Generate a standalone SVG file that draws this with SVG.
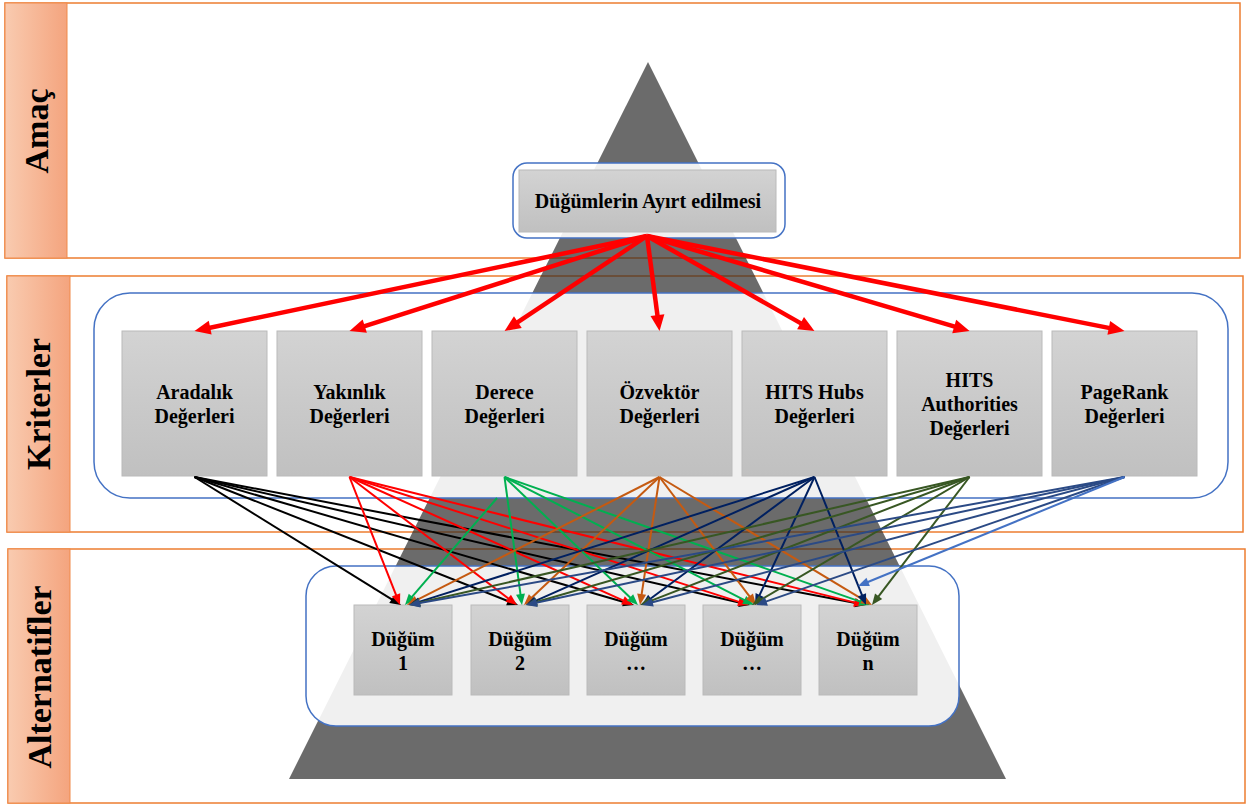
<svg xmlns="http://www.w3.org/2000/svg" width="1255" height="805" viewBox="0 0 1255 805">
<defs>
<linearGradient id="lab" x1="0" y1="0" x2="1" y2="0">
<stop offset="0" stop-color="#F9CBB0"/><stop offset="1" stop-color="#F4A47E"/>
</linearGradient>
<linearGradient id="box" x1="0" y1="0" x2="0" y2="1">
<stop offset="0" stop-color="#D3D3D3"/><stop offset="1" stop-color="#C0C0C0"/>
</linearGradient>
<clipPath id="pyrClip"><polygon points="648,62 1006,779 289,779"/></clipPath>
<marker id="mRed" markerUnits="userSpaceOnUse" markerWidth="20" markerHeight="20" refX="5" refY="0" orient="auto" overflow="visible"><path d="M0,-7 L16,0 L0,7 z" fill="#FF0000"/></marker>
<marker id="mBlack" markerUnits="userSpaceOnUse" markerWidth="12" markerHeight="12" refX="3" refY="0" orient="auto" overflow="visible"><path d="M0,-4.5 L11,0 L0,4.5 z" fill="#000000"/></marker>
<marker id="mR2" markerUnits="userSpaceOnUse" markerWidth="12" markerHeight="12" refX="3" refY="0" orient="auto" overflow="visible"><path d="M0,-4.5 L11,0 L0,4.5 z" fill="#FF0000"/></marker>
<marker id="mGreen" markerUnits="userSpaceOnUse" markerWidth="12" markerHeight="12" refX="3" refY="0" orient="auto" overflow="visible"><path d="M0,-4.5 L11,0 L0,4.5 z" fill="#00B050"/></marker>
<marker id="mOrange" markerUnits="userSpaceOnUse" markerWidth="12" markerHeight="12" refX="3" refY="0" orient="auto" overflow="visible"><path d="M0,-4.5 L11,0 L0,4.5 z" fill="#C55A11"/></marker>
<marker id="mNavy" markerUnits="userSpaceOnUse" markerWidth="12" markerHeight="12" refX="3" refY="0" orient="auto" overflow="visible"><path d="M0,-4.5 L11,0 L0,4.5 z" fill="#002060"/></marker>
<marker id="mDkGreen" markerUnits="userSpaceOnUse" markerWidth="12" markerHeight="12" refX="3" refY="0" orient="auto" overflow="visible"><path d="M0,-4.5 L11,0 L0,4.5 z" fill="#385723"/></marker>
<marker id="mBlue" markerUnits="userSpaceOnUse" markerWidth="12" markerHeight="12" refX="3" refY="0" orient="auto" overflow="visible"><path d="M0,-4.5 L11,0 L0,4.5 z" fill="#2B4A85"/></marker>
<marker id="mBlue2" markerUnits="userSpaceOnUse" markerWidth="12" markerHeight="12" refX="3" refY="0" orient="auto" overflow="visible"><path d="M0,-4.5 L11,0 L0,4.5 z" fill="#4472C4"/></marker>
</defs>
<style>
.band{fill:#FFFFFF;stroke:#ED7D31;stroke-width:1.5}
.lab{fill:url(#lab);stroke:#F08A4B;stroke-width:1}
.labt{font-family:"Liberation Serif","Times New Roman",serif;font-weight:bold;font-size:34px;fill:#000;text-anchor:middle}
.frame{fill:#FFFFFF;fill-opacity:0.9;stroke:#4472C4;stroke-width:1.5}
.box{fill:url(#box);stroke:#BABABA;stroke-width:1}
.t{font-family:"Liberation Serif","Times New Roman",serif;font-weight:bold;font-size:20px;fill:#000;text-anchor:middle}
.red{stroke:#FF0000;stroke-width:4.5;fill:none;marker-end:url(#mRed)}
.c0{stroke:#000000;stroke-width:2;marker-end:url(#mBlack)}
.c1{stroke:#FF0000;stroke-width:2;marker-end:url(#mR2)}
.c2{stroke:#00B050;stroke-width:2;marker-end:url(#mGreen)}
.c3{stroke:#C55A11;stroke-width:2;marker-end:url(#mOrange)}
.c4{stroke:#002060;stroke-width:2;marker-end:url(#mNavy)}
.c5{stroke:#385723;stroke-width:2;marker-end:url(#mDkGreen)}
.c6{stroke:#2B4A85;stroke-width:2;marker-end:url(#mBlue)}
.c7{stroke:#4472C4;stroke-width:2;marker-end:url(#mBlue2)}
</style>

<g id="band-amac">
<rect class="band" x="5" y="3" width="1235" height="255"/>
<rect class="lab" x="5" y="3" width="62" height="255"/>
<text class="labt" transform="translate(48,131) rotate(-90)">Amaç</text>
</g>
<g id="band-kriterler">
<rect class="band" x="7" y="276" width="1236" height="256"/>
<rect class="lab" x="7" y="276" width="63" height="256"/>
<text class="labt" transform="translate(50,404) rotate(-90)">Kriterler</text>
</g>
<g id="band-alternatifler">
<rect class="band" x="8" y="549" width="1237" height="254"/>
<rect class="lab" x="8" y="549" width="62" height="254"/>
<text class="labt" transform="translate(51,677) rotate(-90)">Alternatifler</text>
</g>

<g id="pyramid">
<polygon points="648,62 1006,779 289,779" fill="#6B6B6B"/>
<g clip-path="url(#pyrClip)" stroke="#6A4428" stroke-width="1.5">
<line x1="0" y1="258" x2="1255" y2="258"/>
<line x1="0" y1="276" x2="1255" y2="276"/>
<line x1="0" y1="532" x2="1255" y2="532"/>
<line x1="0" y1="549" x2="1255" y2="549"/>
</g>
</g>

<g id="frame-goal"><rect class="frame" x="513" y="163" width="272" height="75" rx="14"/></g>
<g id="frame-criteria"><rect class="frame" x="94" y="293" width="1134" height="205" rx="36"/></g>
<g id="frame-alternatives"><rect class="frame" x="306" y="566" width="653" height="160" rx="30"/></g>

<g id="goal">
<rect class="box" x="519" y="170" width="257" height="62" stroke="#A6A6A6"/>
<text class="t" x="648" y="208">Düğümlerin Ayırt edilmesi</text>
</g>

<g id="c-aradalik"><rect class="box" x="122" y="331" width="145" height="145"/>
<text class="t" x="194.5" y="399">Aradalık</text><text class="t" x="194.5" y="423">Değerleri</text></g>
<g id="c-yakinlik"><rect class="box" x="277" y="331" width="145" height="145"/>
<text class="t" x="349.5" y="399">Yakınlık</text><text class="t" x="349.5" y="423">Değerleri</text></g>
<g id="c-derece"><rect class="box" x="432" y="331" width="145" height="145"/>
<text class="t" x="504.5" y="399">Derece</text><text class="t" x="504.5" y="423">Değerleri</text></g>
<g id="c-ozvektor"><rect class="box" x="587" y="331" width="145" height="145"/>
<text class="t" x="659.5" y="399">Özvektör</text><text class="t" x="659.5" y="423">Değerleri</text></g>
<g id="c-hubs"><rect class="box" x="742" y="331" width="145" height="145"/>
<text class="t" x="814.5" y="399">HITS Hubs</text><text class="t" x="814.5" y="423">Değerleri</text></g>
<g id="c-authorities"><rect class="box" x="897" y="331" width="145" height="145"/>
<text class="t" x="969.5" y="387">HITS</text><text class="t" x="969.5" y="411">Authorities</text><text class="t" x="969.5" y="435">Değerleri</text></g>
<g id="c-pagerank"><rect class="box" x="1052" y="331" width="145" height="145"/>
<text class="t" x="1124.5" y="399">PageRank</text><text class="t" x="1124.5" y="423">Değerleri</text></g>

<g id="a-1"><rect class="box" x="354" y="605" width="98" height="90"/>
<text class="t" x="403" y="646">Düğüm</text><text class="t" x="403" y="670">1</text></g>
<g id="a-2"><rect class="box" x="471" y="605" width="98" height="90"/>
<text class="t" x="520" y="646">Düğüm</text><text class="t" x="520" y="670">2</text></g>
<g id="a-3"><rect class="box" x="587" y="605" width="98" height="90"/>
<text class="t" x="636" y="646">Düğüm</text><text class="t" x="636" y="670">…</text></g>
<g id="a-4"><rect class="box" x="703" y="605" width="98" height="90"/>
<text class="t" x="752" y="646">Düğüm</text><text class="t" x="752" y="670">…</text></g>
<g id="a-n"><rect class="box" x="819" y="605" width="98" height="90"/>
<text class="t" x="868" y="646">Düğüm</text><text class="t" x="868" y="670">n</text></g>

<g id="connectors">
<line class="red" x1="647" y1="236" x2="205.3" y2="328.7"/>
<line class="red" x1="647" y1="236" x2="360.0" y2="327.7"/>
<line class="red" x1="647" y1="236" x2="513.7" y2="324.9"/>
<line class="red" x1="647" y1="236" x2="658.1" y2="320.1"/>
<line class="red" x1="647" y1="236" x2="804.9" y2="325.6"/>
<line class="red" x1="647" y1="236" x2="959.0" y2="327.9"/>
<line class="red" x1="647" y1="236" x2="1113.7" y2="328.9"/>

<line class="c0" x1="194.5" y1="477" x2="394.2" y2="600.8"/>
<line class="c0" x1="194.5" y1="477" x2="510.6" y2="602.1"/>
<line class="c0" x1="194.5" y1="477" x2="626.3" y2="602.8"/>
<line class="c0" x1="194.5" y1="477" x2="742.2" y2="603.2"/>
<line class="c0" x1="194.5" y1="477" x2="858.1" y2="603.5"/>

<line class="c1" x1="349.5" y1="477" x2="397.1" y2="597.6"/>
<line class="c1" x1="349.5" y1="477" x2="510.6" y2="600.1"/>
<line class="c1" x1="349.5" y1="477" x2="625.7" y2="601.7"/>
<line class="c1" x1="349.5" y1="477" x2="741.4" y2="602.6"/>
<line class="c1" x1="349.5" y1="477" x2="857.2" y2="603.1"/>

<line class="c2" x1="497" y1="498" x2="410.2" y2="598.9"/>
<line class="c2" x1="504.5" y1="477" x2="520.9" y2="597.1"/>
<line class="c2" x1="504.5" y1="477" x2="632.2" y2="599.5"/>
<line class="c2" x1="504.5" y1="477" x2="746.9" y2="601.3"/>
<line class="c2" x1="504.5" y1="477" x2="862.5" y2="602.4"/>

<line class="c3" x1="659.5" y1="477" x2="414.1" y2="601.4"/>
<line class="c3" x1="659.5" y1="477" x2="529.8" y2="599.5"/>
<line class="c3" x1="659.5" y1="477" x2="641.2" y2="597.1"/>
<line class="c3" x1="659.5" y1="477" x2="751.2" y2="598.6"/>
<line class="c3" x1="659.5" y1="477" x2="865.1" y2="600.9"/>

<line class="c4" x1="814.5" y1="477" x2="416.6" y2="602.6"/>
<line class="c4" x1="814.5" y1="477" x2="533.3" y2="601.8"/>
<line class="c4" x1="814.5" y1="477" x2="648.4" y2="600.2"/>
<line class="c4" x1="814.5" y1="477" x2="758.4" y2="597.7"/>
<line class="c4" x1="814.5" y1="477" x2="863.0" y2="597.6"/>

<line class="c5" x1="969.5" y1="477" x2="416.8" y2="603.2"/>
<line class="c5" x1="969.5" y1="477" x2="533.7" y2="602.8"/>
<line class="c5" x1="969.5" y1="477" x2="647.5" y2="602.1"/>
<line class="c5" x1="969.5" y1="477" x2="758.9" y2="600.9"/>
<line class="c5" x1="969.5" y1="477" x2="876.8" y2="598.6"/>

<line class="c6" x1="1124.5" y1="477" x2="416.9" y2="603.6"/>
<line class="c6" x1="1124.5" y1="477" x2="533.8" y2="603.3"/>
<line class="c6" x1="1124.5" y1="477" x2="649.7" y2="603.0"/>
<line class="c6" x1="1124.5" y1="477" x2="763.6" y2="602.4"/>
<line class="c7" x1="1124.5" y1="477" x2="865.4" y2="583.0"/>
</g>
</svg>
